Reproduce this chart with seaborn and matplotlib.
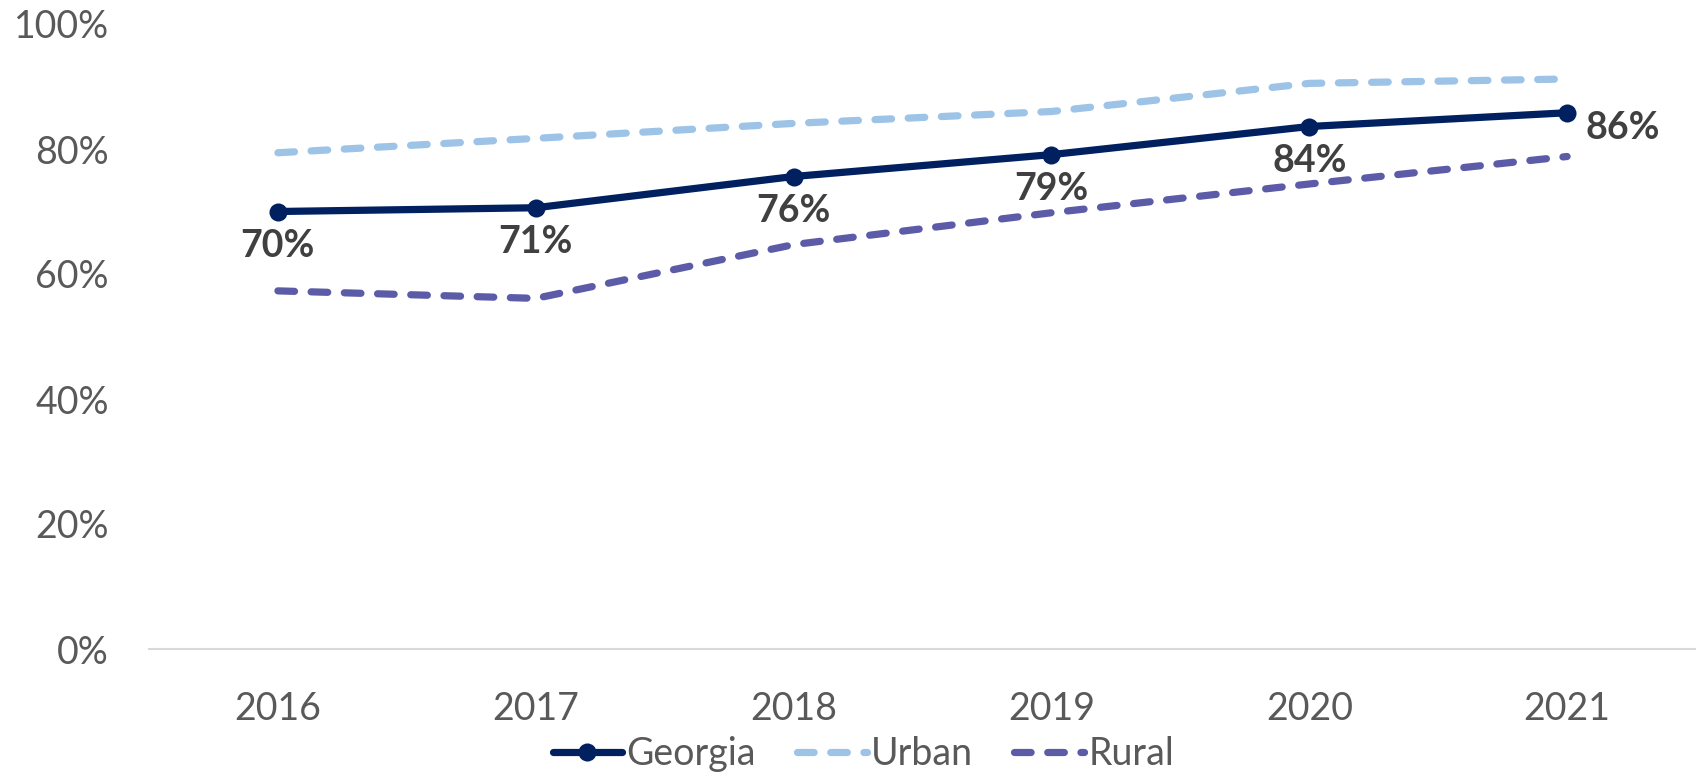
import matplotlib
matplotlib.use("Agg")
import matplotlib.pyplot as plt
from matplotlib.ticker import PercentFormatter
import seaborn as sns
import pandas as pd

years = [2016, 2017, 2018, 2019, 2020, 2021]
georgia = [0.70, 0.706, 0.756, 0.791, 0.836, 0.858]
urban = [0.794, 0.817, 0.841, 0.860, 0.905, 0.912]
rural = [0.573, 0.561, 0.647, 0.698, 0.744, 0.788]
georgia_labels = ["70%", "71%", "76%", "79%", "84%", "86%"]

navy = "#002060"
light_blue = "#9DC3E6"
purple = "#5B5BA8"
gray = "#595959"

sns.set_style("white")
plt.rcParams["font.family"] = ["Lato", "DejaVu Sans"]

fig = plt.figure(figsize=(16.96, 7.78), dpi=100)
ax = fig.add_axes([149 / 1696, 1 - 649 / 778, 1 - 149 / 1696, (649 - 24) / 778])

df = pd.DataFrame({"year": years, "Georgia": georgia, "Urban": urban, "Rural": rural})

dash = (0, (2.3, 2.3))
sns.lineplot(data=df, x="year", y="Urban", ax=ax, color=light_blue, lw=5.2,
             linestyle=dash, dash_capstyle="round", label="Urban")
sns.lineplot(data=df, x="year", y="Rural", ax=ax, color=purple, lw=5.2,
             linestyle=dash, dash_capstyle="round", label="Rural")
sns.lineplot(data=df, x="year", y="Georgia", ax=ax, color=navy, lw=5.2,
             marker="o", markersize=13, markeredgewidth=0, label="Georgia")

# data labels on the Georgia line
for i, (x, y, lab) in enumerate(zip(years, georgia, georgia_labels)):
    if i == len(years) - 1:
        ax.annotate(lab, (x, y), xytext=(13, -11), textcoords="offset points",
                    ha="left", va="center", fontsize=27, fontweight="bold", color="#404040")
    else:
        ax.annotate(lab, (x, y), xytext=(0, -25), textcoords="offset points",
                    ha="center", va="center", fontsize=27, fontweight="bold", color="#404040")

ax.set_xlim(2015.5, 2021.5)
ax.set_ylim(0, 1)
ax.set_xticks(years)
ax.set_yticks([0, 0.2, 0.4, 0.6, 0.8, 1.0])
ax.yaxis.set_major_formatter(PercentFormatter(1.0, decimals=0))
ax.tick_params(axis="both", length=0, labelsize=27, labelcolor=gray)
ax.tick_params(axis="y", pad=29)
ax.tick_params(axis="x", pad=30)
ax.set_xlabel("")
ax.set_ylabel("")

for side in ["left", "right", "top"]:
    ax.spines[side].set_visible(False)
ax.spines["bottom"].set_color("#D9D9D9")
ax.spines["bottom"].set_linewidth(1.5)

handles, labels = ax.get_legend_handles_labels()
order = [labels.index(n) for n in ["Georgia", "Urban", "Rural"]]
ax.get_legend().remove()
leg = fig.legend([handles[i] for i in order], [labels[i] for i in order],
                 loc="center", bbox_to_anchor=(0.509, 0.031), ncol=3, frameon=False,
                 fontsize=27, handlelength=1.85, handletextpad=0.12, columnspacing=1.1,
                 borderaxespad=0)
for t in leg.get_texts():
    t.set_color(gray)

fig.savefig("out.png", dpi=100)
